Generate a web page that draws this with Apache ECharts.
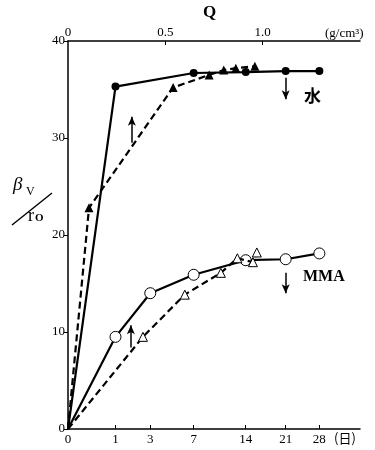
<!DOCTYPE html>
<html><head><meta charset="utf-8">
<script src="https://cdn.jsdelivr.net/npm/echarts@6/dist/echarts.min.js"></script>
<style>html,body{margin:0;padding:0;background:#fff}#c{width:375px;height:450px}</style>
</head><body><div id="c"></div>
<script>
// bottom axis: days (square-root scale)
var dayTicks = [0, 1, 3, 7, 14, 21, 28];
// top axis: Q (g/cm3)
var qTicks = [0, 0.5, 1.0];
var yTicks = [0, 10, 20, 30, 40];

// 水 vs days (filled circles, solid)
var waterDays = [0, 1, 7, 14, 21, 28];
var waterDayVals = [0, 35.3, 36.7, 36.8, 36.9, 36.9];
// 水 vs Q (filled triangles, dashed)
var waterQ = [0, 0.108, 0.54, 0.725, 0.80, 0.862, 0.96];
var waterQVals = [0, 22.8, 35.2, 36.5, 37.0, 37.2, 37.4];
// MMA vs days (open circles, solid)
var mmaDays = [0, 1, 3, 7, 14, 21, 28];
var mmaDayVals = [0, 9.5, 14.0, 15.9, 17.4, 17.5, 18.1];
// MMA vs Q (open triangles, dashed)
var mmaQ = [0, 0.385, 0.60, 0.785, 0.87, 0.95, 0.97];
var mmaQVals = [0, 9.5, 13.85, 16.1, 17.6, 17.2, 18.2];

var FONT = '"Liberation Serif", "DejaVu Serif", serif';
function sq(d){ return Math.sqrt(d); }
function pts(xs, ys, tf){
  return xs.map(function(x, i){
    var item = {value: [tf ? tf(x) : x, ys[i]]};
    if (i === 0) item.symbol = 'none';
    return item;
  });
}
var chart = echarts.init(document.getElementById('c'), null, {renderer: 'canvas'});
var arrowMark = function(data){
  return {silent: true, symbol: ['none', 'arrow'], symbolSize: [6, 9],
    lineStyle: {color: '#000', type: 'solid', width: 1.5}, label: {show: false},
    data: data};
};
chart.setOption({
  animation: false,
  backgroundColor: '#fff',
  grid: {left: 68, right: 15, top: 41, bottom: 21},
  xAxis: [{
    type: 'value', position: 'bottom', min: 0, max: 6.147,
    axisLine: {show: true, lineStyle: {color: '#000', width: 1.5}},
    axisTick: {show: true, inside: true, length: 4, customValues: dayTicks.map(sq), lineStyle: {color: '#000'}},
    axisLabel: {customValues: dayTicks.map(sq), color: '#000', fontFamily: FONT, fontSize: 13, margin: 4,
      formatter: function(v){ return String(Math.round(v * v)); }},
    splitLine: {show: false}
  }, {
    type: 'value', position: 'top', min: 0, max: 1.5,
    axisLine: {show: true, lineStyle: {color: '#000', width: 1.5}},
    axisTick: {show: true, inside: true, length: 4, customValues: qTicks.slice(1), lineStyle: {color: '#000'}},
    axisLabel: {customValues: qTicks, color: '#000', fontFamily: FONT, fontSize: 13, margin: 2,
      formatter: function(v){ return v === 0 ? '0' : v.toFixed(1); }},
    splitLine: {show: false}
  }],
  yAxis: [{
    type: 'value', min: 0, max: 40, interval: 10,
    axisLine: {show: true, lineStyle: {color: '#000', width: 1.5}},
    axisTick: {show: true, length: 4, lineStyle: {color: '#000'}},
    axisLabel: {color: '#000', fontFamily: FONT, fontSize: 13, margin: 3},
    splitLine: {show: false}
  }],
  series: [{
    type: 'line', name: '水-days', xAxisIndex: 0, data: pts(waterDays, waterDayVals, sq),
    symbol: 'circle', symbolSize: 8, itemStyle: {color: '#000'},
    lineStyle: {color: '#000', width: 2.2}, z: 3,
    markLine: arrowMark([[{coord: [sq(21), 36.2]}, {coord: [sq(21), 34.0]}]])
  }, {
    type: 'line', name: '水-Q', xAxisIndex: 1, data: pts(waterQ, waterQVals),
    symbol: 'triangle', symbolSize: 9, itemStyle: {color: '#000'},
    lineStyle: {color: '#000', width: 2.2, type: [7, 4]}, z: 3,
    markLine: arrowMark([[{coord: [0.328, 29.5]}, {coord: [0.328, 32.2]}]])
  }, {
    type: 'line', name: 'MMA-days', xAxisIndex: 0, data: pts(mmaDays, mmaDayVals, sq),
    symbol: 'circle', symbolSize: 11, itemStyle: {color: '#fff', borderColor: '#000', borderWidth: 1},
    lineStyle: {color: '#000', width: 2.2}, z: 4,
    markLine: arrowMark([[{coord: [sq(21), 16.1]}, {coord: [sq(21), 14.0]}]])
  }, {
    type: 'line', name: 'MMA-Q', xAxisIndex: 1, data: pts(mmaQ, mmaQVals),
    symbol: 'triangle', symbolSize: 9, itemStyle: {color: '#fff', borderColor: '#000', borderWidth: 1},
    lineStyle: {color: '#000', width: 2.2, type: [7, 4]}, z: 5,
    markLine: arrowMark([[{coord: [0.323, 8.4]}, {coord: [0.323, 10.7]}]])
  }],
  graphic: [
    {type: 'text', left: 203, top: 4, style: {text: 'Q', font: 'bold 17px ' + FONT, fill: '#000'}},
    {type: 'text', left: 325, top: 27, style: {text: '(g/cm³)', font: '13px ' + FONT, fill: '#000'}},
    {type: 'text', left: 334, top: 432, style: {text: '(日)', font: '13px "Noto Sans CJK JP", sans-serif', fill: '#000'}},
    {type: 'text', left: 304, top: 87, style: {text: '水', font: 'bold 17px "Noto Sans CJK JP", sans-serif', fill: '#000'}},
    {type: 'text', left: 303, top: 269, style: {text: 'MMA', font: 'bold 16px ' + FONT, fill: '#000'}},
    {type: 'text', left: 13, top: 175, style: {text: 'β', font: 'italic 19px ' + FONT, fill: '#000'}},
    {type: 'text', left: 26, top: 186, style: {text: 'V', font: '12px ' + FONT, fill: '#000'}},
    {type: 'line', shape: {x1: 12, y1: 225, x2: 52, y2: 193}, style: {stroke: '#000', lineWidth: 1.5}},
    {type: 'text', left: 28, top: 207, style: {text: 'r', font: '18px ' + FONT, fill: '#000'}},
    {type: 'text', left: 35, top: 213, style: {text: 'O', font: 'bold 11px ' + FONT, fill: '#000'}}
  ]
});
</script></body></html>
